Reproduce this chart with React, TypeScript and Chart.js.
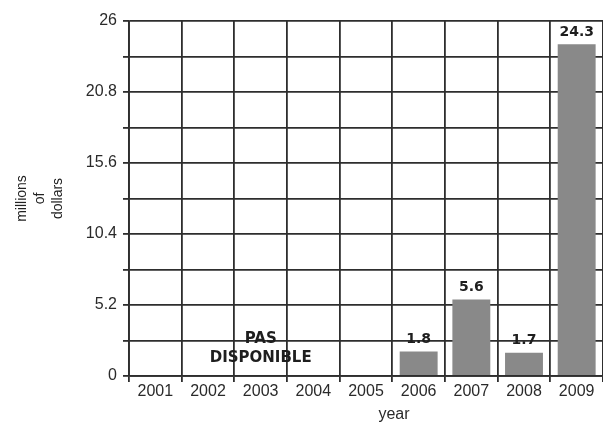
import React, { useEffect, useRef } from 'react';
import { Chart, registerables } from 'chart.js';

Chart.register(...registerables);

const years = ['2001', '2002', '2003', '2004', '2005', '2006', '2007', '2008', '2009'];
const amounts: (number | null)[] = [null, null, null, null, null, 1.8, 5.6, 1.7, 24.3];
const yGridValues = [0, 2.6, 5.2, 7.8, 10.4, 13, 15.6, 18.2, 20.8, 23.4, 26];
const yTickLabels = ['0', '', '5.2', '', '10.4', '', '15.6', '', '20.8', '', '26'];
const yAxisTitle = ['millions', 'of', 'dollars'];
const xAxisTitle = 'year';
const naCategory = '2003';
const naLines = ['PAS', 'DISPONIBLE'];
const naLineValues = [2.7, 1.3];

const GRID = '#2e2e2e';

const labelsPlugin = {
  id: 'barLabels',
  afterDatasetsDraw(chart: any) {
    const ctx = chart.ctx;
    const meta = chart.getDatasetMeta(0);
    const xs = chart.scales.x;
    const ys = chart.scales.y;
    ctx.save();
    ctx.font = 'bold 14px "DejaVu Sans"';
    ctx.fillStyle = '#1e1e1e';
    ctx.textAlign = 'center';
    ctx.textBaseline = 'middle';
    meta.data.forEach((bar: any, i: number) => {
      const v = amounts[i];
      if (v == null) return;
      ctx.fillText(v.toFixed(1), bar.x, bar.y - 12);
    });
    ctx.font = 'bold 15px "DejaVu Sans"';
    const cx = xs.getPixelForValue(years.indexOf(naCategory));
    naLines.forEach((t, i) => ctx.fillText(t, cx, ys.getPixelForValue(naLineValues[i])));
    ctx.font = '16px "Liberation Sans"';
    ctx.fillStyle = '#2a2a2a';
    ctx.fillText(xAxisTitle, (xs.left + xs.right) / 2 + 28, xs.bottom - 8);
    ctx.restore();
  },
};

export default function App() {
  const ref = useRef<HTMLCanvasElement | null>(null);

  useEffect(() => {
    if (!ref.current) return;
    const chart = new Chart(ref.current, {
      type: 'bar',
      data: {
        labels: years,
        datasets: [
          {
            data: amounts as any,
            backgroundColor: '#898989',
            borderWidth: 0,
            barPercentage: 0.72,
            categoryPercentage: 1,
          },
        ],
      },
      options: {
        animation: false,
        responsive: true,
        maintainAspectRatio: false,
        layout: { padding: { top: 21, right: 0, bottom: 0, left: 0 } },
        plugins: {
          legend: { display: false },
          tooltip: { enabled: false },
          title: { display: false },
        },
        scales: {
          x: {
            offset: true,
            grid: {
              offset: true,
              color: GRID,
              lineWidth: 1.8,
              tickLength: 6,
              tickColor: GRID,
            },
            border: { color: GRID, width: 1.8 },
            ticks: {
              color: '#2a2a2a',
              font: { family: '"Liberation Sans"', size: 16 },
              padding: 0,
              maxRotation: 0,
              autoSkip: false,
            },
            afterFit: (scale: any) => {
              scale.height = 47;
            },
          },
          y: {
            min: 0,
            max: 26,
            grid: {
              color: GRID,
              lineWidth: 1.8,
              tickLength: 6,
              tickColor: GRID,
            },
            border: { color: GRID, width: 1.8 },
            afterBuildTicks: (scale: any) => {
              scale.ticks = yGridValues.map((v) => ({ value: v }));
            },
            ticks: {
              autoSkip: false,
              color: '#2a2a2a',
              font: { family: '"Liberation Sans"', size: 16 },
              padding: 6,
              callback: (_v: any, i: number) => yTickLabels[i],
            },
            title: {
              display: true,
              text: yAxisTitle,
              color: '#222222',
              font: { family: '"Liberation Sans"', size: 14, lineHeight: '18px' },
              padding: { top: 13, bottom: 0 },
            },
            afterFit: (scale: any) => {
              scale.width = 129;
            },
          },
        },
      },
      plugins: [labelsPlugin],
    });
    return () => chart.destroy();
  }, []);

  return (
    <div style={{ position: 'absolute', left: 0, top: 0, width: 603, height: 423, background: '#ffffff' }}>
      <canvas ref={ref} />
    </div>
  );
}
